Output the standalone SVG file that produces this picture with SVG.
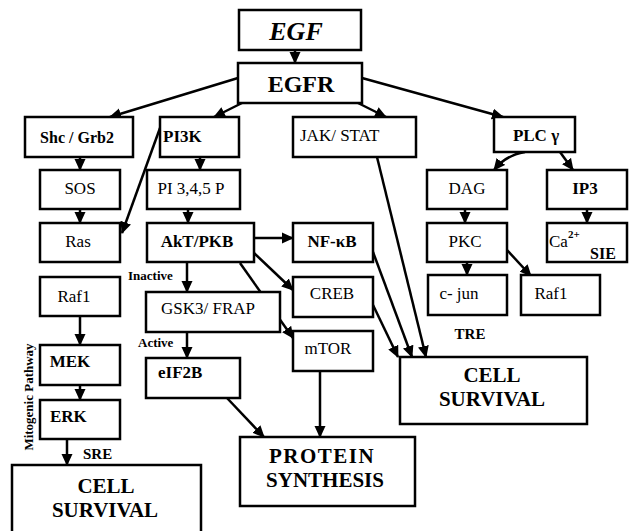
<svg xmlns="http://www.w3.org/2000/svg" width="631" height="531" viewBox="0 0 631 531">
<defs>
<marker id="ah" markerUnits="userSpaceOnUse" markerWidth="12" markerHeight="12" viewBox="0 0 12 12" refX="11" refY="6" orient="auto">
<path d="M0,0.5 L12,6 L0,11.5 Z" fill="#000"/>
</marker>
<style>
rect{fill:#fff;stroke:#000;stroke-width:2.5}
text{font-family:"Times New Roman",Times,"Liberation Serif","Noto Serif","DejaVu Serif",serif;fill:#000;font-size:17px}
.c{text-anchor:middle}
.b{font-weight:bold}
.big{font-weight:bold;font-size:21px;text-anchor:middle}
.lab{font-weight:bold;font-size:13px}
#edges line,#edges path{stroke:#000;stroke-width:2.5;fill:none;marker-end:url(#ah)}
</style>
</defs>
<rect x="0" y="0" width="631" height="531" style="fill:#fff;stroke:none"/>

<g id="edges">
<line x1="295" y1="50" x2="295" y2="63"/>
<line x1="238" y1="78" x2="110" y2="117"/>
<line x1="242" y1="103" x2="214" y2="117"/>
<line x1="358" y1="103" x2="386" y2="117"/>
<line x1="362" y1="78" x2="503" y2="117"/>
<line x1="80" y1="157" x2="80" y2="170"/>
<line x1="200" y1="157" x2="200" y2="170"/>
<line x1="160" y1="128" x2="122" y2="233"/>
<line x1="80" y1="209" x2="80" y2="223"/>
<line x1="188" y1="209" x2="188" y2="223"/>
<path d="M525,152 Q506,155 494,170"/>
<line x1="560" y1="152" x2="573" y2="170"/>
<line x1="465" y1="209" x2="465" y2="223"/>
<line x1="587" y1="209" x2="587" y2="223"/>
<line x1="467" y1="262" x2="467" y2="275"/>
<line x1="507" y1="250" x2="531" y2="276"/>
<line x1="254" y1="238" x2="293" y2="238"/>
<line x1="253" y1="252" x2="293" y2="290"/>
<line x1="240" y1="263" x2="293" y2="338"/>
<line x1="187" y1="262" x2="187" y2="292"/>
<line x1="187" y1="332" x2="187" y2="358"/>
<line x1="227" y1="398" x2="264" y2="437"/>
<line x1="320" y1="371" x2="320" y2="437"/>
<line x1="373" y1="252" x2="412" y2="357"/>
<line x1="373" y1="305" x2="398" y2="357"/>
<line x1="377" y1="157" x2="426" y2="357"/>
<line x1="80" y1="316" x2="80" y2="345"/>
<line x1="80" y1="385" x2="80" y2="400"/>
<line x1="67" y1="439" x2="67" y2="465"/>
</g>

<g id="egf"><rect x="239" y="10" width="122" height="40"/><text x="296" y="40" class="c b" style="font-style:italic;font-size:26px">EGF</text></g>
<g id="egfr"><rect x="238" y="63" width="124" height="40"/><text x="301" y="92" class="c b" style="font-size:24px">EGFR</text></g>

<g id="shc"><rect x="25" y="117" width="108" height="40"/><text x="77" y="143" class="c b" style="font-size:16px">Shc / Grb2</text></g>
<g id="pi3k"><rect x="160" y="117" width="79" height="40"/><text x="163" y="142" class="b">PI3K</text></g>
<g id="jak"><rect x="293" y="117" width="123" height="40"/><text x="300" y="141">JAK/ STAT</text></g>
<g id="plc"><rect x="494" y="117" width="81" height="35"/><text x="536" y="141" class="c b">PLC γ</text></g>

<g id="sos"><rect x="40" y="170" width="80" height="39"/><text x="80" y="194" class="c">SOS</text></g>
<g id="pip"><rect x="147" y="170" width="93" height="39"/><text x="191" y="194" class="c">PI 3,4,5 P</text></g>
<g id="dag"><rect x="427" y="170" width="80" height="39"/><text x="467" y="194" class="c">DAG</text></g>
<g id="ip3"><rect x="547" y="170" width="80" height="39"/><text x="585" y="194" class="c b">IP3</text></g>

<g id="ras"><rect x="40" y="223" width="80" height="39"/><text x="78" y="247" class="c">Ras</text></g>
<g id="akt"><rect x="147" y="223" width="107" height="39"/><text x="197" y="247" class="c b">AkT/PKB</text></g>
<g id="nfkb"><rect x="293" y="223" width="80" height="39"/><text x="332" y="247" class="c b">NF-κB</text></g>
<g id="pkc"><rect x="427" y="223" width="80" height="39"/><text x="465" y="247" class="c">PKC</text></g>
<g id="ca"><rect x="547" y="223" width="80" height="39"/><text x="549" y="247">Ca<tspan dy="-9" style="font-size:11px" class="b">2+</tspan></text><text x="590" y="259" class="b" style="font-size:16px">SIE</text></g>

<g id="raf1"><rect x="40" y="277" width="80" height="39"/><text x="74" y="302" class="c">Raf1</text></g>
<g id="gsk"><rect x="146" y="292" width="134" height="40"/><text x="208" y="314" class="c">GSK3/ FRAP</text></g>
<g id="creb"><rect x="293" y="277" width="80" height="40"/><text x="332" y="299" class="c">CREB</text></g>
<g id="cjun"><rect x="428" y="275" width="79" height="40"/><text x="459" y="299" class="c">c- jun</text></g>
<g id="raf1b"><rect x="521" y="275" width="79" height="40"/><text x="551" y="299" class="c">Raf1</text></g>

<g id="mtor"><rect x="293" y="331" width="80" height="40"/><text x="328" y="354" class="c">mTOR</text></g>
<g id="mek"><rect x="40" y="345" width="80" height="40"/><text x="70" y="367" class="c b">MEK</text></g>
<g id="eif"><rect x="146" y="358" width="94" height="40"/><text x="158" y="378" class="b">eIF2B</text></g>
<g id="erk"><rect x="40" y="400" width="80" height="39"/><text x="50" y="422" class="b">ERK</text></g>

<g id="cellr"><rect x="400" y="357" width="187" height="67"/><text x="492" y="382" class="big">CELL</text><text x="492" y="406" class="big">SURVIVAL</text></g>
<g id="prot"><rect x="240" y="437" width="175" height="69"/><text x="322" y="463" class="big" style="letter-spacing:1.5px">PROTEIN</text><text x="325" y="487" class="big">SYNTHESIS</text></g>
<g id="celll"><rect x="12" y="465" width="189" height="80"/><text x="106" y="493" class="big">CELL</text><text x="105" y="517" class="big">SURVIVAL</text></g>

<g id="labels">
<text x="128" y="280" class="lab">Inactive</text>
<text x="138" y="347" class="lab">Active</text>
<text x="83" y="459" class="lab" style="font-size:15px">SRE</text>
<text x="470" y="339" class="lab c" style="font-size:15px">TRE</text>
<text x="33" y="397" class="lab c" transform="rotate(-90 33 397)">Mitogenic Pathway</text>
</g>
</svg>
